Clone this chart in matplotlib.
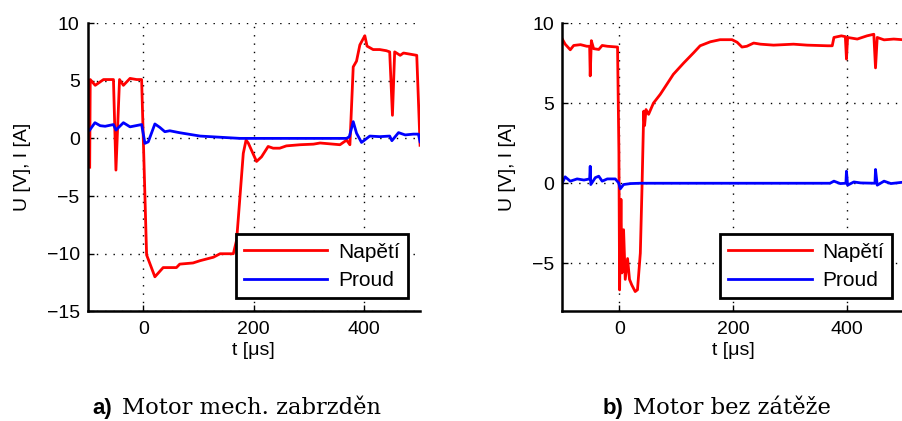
import matplotlib.pyplot as plt

plt.rcParams['font.family'] = ['Liberation Sans', 'DejaVu Sans']
plt.rcParams['font.size'] = 14

# a) Motor mech. zabrzdeny
t_a_u = [-97, -96, -87, -72, -54, -49.5, -43, -36, -24, -12, -3, 6, 21, 36, 60, 66,
         90, 103, 127, 139, 163, 169, 181, 186, 190, 205, 214, 226, 235, 247, 259,
         284, 308, 320, 344, 356, 368, 374, 380, 386, 392, 401, 405, 416, 428, 440,
         446, 451, 455, 465, 471, 483, 495, 501]
u_a = [-2.5, 5.1, 4.6, 5.1, 5.1, -2.75, 5.1, 4.6, 5.2, 5.1, 5.1, -10.1, -12.0, -11.2,
       -11.2, -10.9, -10.8, -10.6, -10.3, -10.0, -10.0, -8.8, -1.3, -0.15, -0.4,
       -2.0, -1.6, -0.7, -0.85, -0.85, -0.65, -0.55, -0.5, -0.4, -0.5, -0.55, -0.15,
       -0.55, 6.2, 6.7, 8.1, 8.9, 8.0, 7.7, 7.7, 7.6, 7.5, 2.0, 7.5, 7.2, 7.4, 7.3,
       7.2, -0.6]
t_a_i = [-97, -87.5, -78, -69, -54, -49.5, -36, -24, -3, 3, 9, 21, 30, 39, 48, 66,
         103, 139, 175, 247, 310, 368, 373, 380, 386, 395, 410, 428, 446, 450, 462,
         474, 489, 498, 501]
i_a = [0.72, 1.36, 1.1, 1.05, 1.2, 0.72, 1.36, 1.0, 1.2, -0.43, -0.3, 1.25, 0.95,
       0.58, 0.66, 0.49, 0.2, 0.1, 0.0, 0.0, 0.0, 0.0, 0.15, 1.45, 0.45, -0.35, 0.2,
       0.15, 0.2, -0.2, 0.5, 0.3, 0.37, 0.37, -0.3]

# b) Motor bez zateze
t_b_u = [-100, -95, -86, -80, -68, -57, -52, -51, -49, -45, -36, -30, -21, -3,
         -0.6, 0.6, 3, 4.7, 7.6, 10.5, 14.6, 18, 22, 28, 32, 37, 40, 43, 44.5, 47,
         51.5, 60, 72, 84, 95, 113, 131, 142, 160, 177, 198, 207, 215.5, 224, 236,
         248, 271, 306, 330, 366, 374, 377, 390, 397, 399, 401, 418, 435, 447, 450,
         453, 465, 482, 497]
u_b = [9.0, 8.68, 8.33, 8.6, 8.65, 8.55, 8.55, 6.7, 8.9, 8.4, 8.35, 8.6, 8.55, 8.5,
       1.9, -6.66, -1.0, -5.6, -2.9, -6.0, -4.7, -6.0, -6.35, -6.76, -6.65, -4.36,
       -0.2, 4.5, 3.6, 4.6, 4.3, 5.0, 5.55, 6.2, 6.8, 7.5, 8.16, 8.58, 8.83, 8.96,
       8.96, 8.8, 8.5, 8.55, 8.75, 8.68, 8.62, 8.68, 8.62, 8.58, 8.58, 9.1, 9.2,
       9.15, 7.75, 9.1, 9.0, 9.2, 9.3, 7.2, 9.1, 8.95, 9.0, 8.96]
t_b_i = [-100, -95, -86, -74, -62, -52, -51, -50, -42, -36, -30, -21, -7, -1, 1.8,
         7.6, 20, 37, 100, 200, 300, 370, 377, 388, 398, 399, 401, 412, 424, 449,
         450, 453, 465, 477, 497]
i_b = [0.02, 0.4, 0.13, 0.27, 0.2, 0.27, 1.06, -0.08, 0.35, 0.44, 0.13, 0.27,
       0.27, 0.02, -0.35, -0.08, -0.02, 0.0, 0.0, 0.0, 0.0, 0.0, 0.13, -0.02,
       0.0, 0.75, -0.12, 0.08, 0.02, 0.0, 0.86, -0.12, 0.13, -0.02, 0.06]

panels = [
    dict(t_u=t_a_u, u=u_a, t_i=t_a_i, i=i_a, ylim=(-15, 10),
         yticks=[-15, -10, -5, 0, 5, 10], pos=[0.0976, 0.2603, 0.3675, 0.685],
         label='a)', caption='Motor mech. zabrzděn', lx=112, cx=122),
    dict(t_u=t_b_u, u=u_b, t_i=t_b_i, i=i_b, ylim=(-8, 10),
         yticks=[-5, 0, 5, 10], pos=[0.6234, 0.2603, 0.3788, 0.685],
         label='b)', caption='Motor bez zátěže', lx=623, cx=633),
]

W = 902
fig = plt.figure(figsize=(9.02, 4.21), dpi=100)

for p in panels:
    ax = fig.add_axes(p['pos'])
    ax.plot(p['t_u'], p['u'], color='red', lw=2, label='Napětí')
    ax.plot(p['t_i'], p['i'], color='blue', lw=2, label='Proud')
    ax.set_xlim(-100, 500)
    ax.set_ylim(*p['ylim'])
    ax.set_xticks([0, 200, 400])
    ax.set_yticks(p['yticks'])
    ax.grid(True, color='black', linestyle=(0, (1, 5)), linewidth=1)
    ax.spines['top'].set_visible(False)
    ax.spines['right'].set_visible(False)
    for s in ('left', 'bottom'):
        ax.spines[s].set_linewidth(1.8)
    ax.tick_params(direction='in', length=4, width=1, labelsize=14)
    ax.tick_params(axis='y', pad=6)
    ax.tick_params(axis='x', pad=7)
    ax.set_xlabel('t [μs]', fontsize=14, labelpad=3)
    ax.set_ylabel('U [V], I [A]', fontsize=14, labelpad=11)
    leg = ax.legend(loc='lower right', bbox_to_anchor=(0.965, 0.045),
                    fancybox=False, edgecolor='black', fontsize=15,
                    handlelength=4.0, borderpad=0.4, labelspacing=0.45,
                    handletextpad=0.5, borderaxespad=0)
    leg.get_frame().set_linewidth(2)
    leg.get_frame().set_alpha(1)

    fig.text(p['lx'] / W, 0.017, p['label'], fontsize=16, fontweight='bold',
             ha='right', va='baseline')
    fig.text(p['cx'] / W, 0.017, p['caption'], fontsize=16.3,
             family='DejaVu Serif', ha='left', va='baseline')

fig.savefig('out.png', dpi=100)
